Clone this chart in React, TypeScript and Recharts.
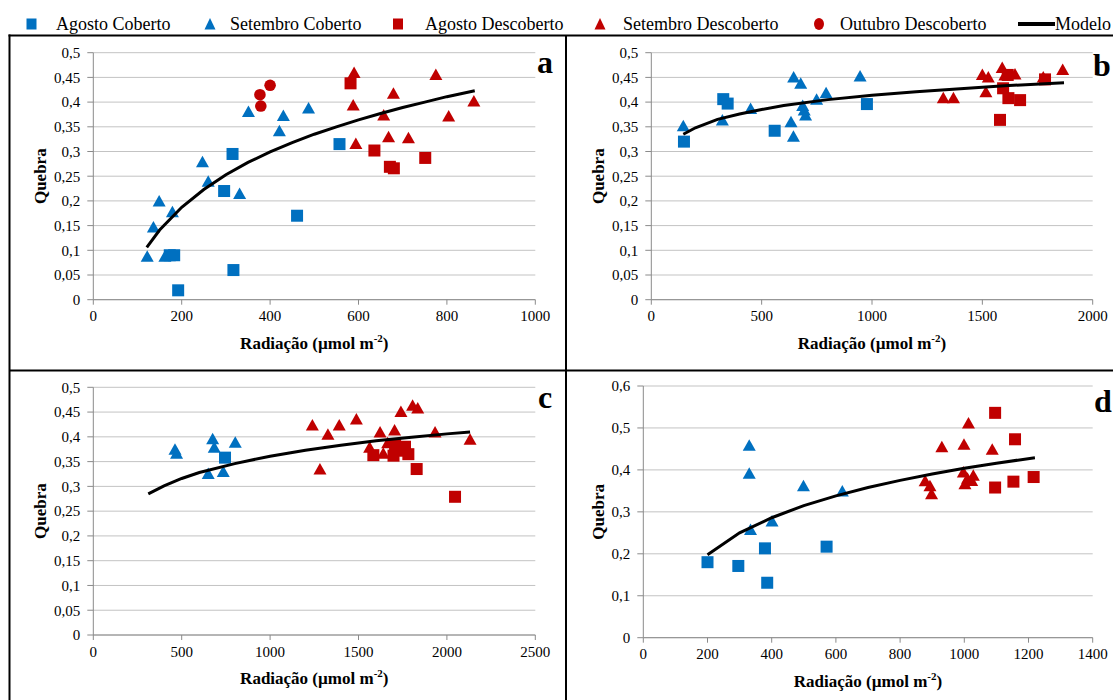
import React from 'react';
import { ScatterChart, Scatter, XAxis, YAxis, CartesianGrid } from 'recharts';

// ---------- DATA ----------
// Panel a
const aAgostoCoberto = [[173, 0.09], [183, 0.09], [192, 0.019], [296, 0.22], [315, 0.295], [317, 0.06], [461, 0.17], [557, 0.315]];
const aSetembroCoberto = [[122, 0.088], [136, 0.147], [149, 0.2], [162, 0.088], [179, 0.178], [247, 0.279], [260, 0.24], [331, 0.215], [351, 0.381], [421, 0.342], [430, 0.373], [487, 0.388]];
const aAgostoDescoberto = [[582, 0.438], [636, 0.302], [671, 0.269], [680, 0.266], [751, 0.287]];
const aSetembroDescoberto = [[588, 0.394], [590, 0.46], [594, 0.316], [657, 0.374], [668, 0.33], [679, 0.418], [713, 0.328], [775, 0.456], [804, 0.372], [861, 0.402]];
const aOutubroDescoberto = [[377, 0.415], [379, 0.392], [400, 0.434]];
const aModelo = [[121, 0.106], [150, 0.141], [200, 0.187], [250, 0.223], [300, 0.253], [350, 0.278], [400, 0.299], [450, 0.318], [500, 0.335], [550, 0.35], [600, 0.364], [650, 0.377], [700, 0.389], [750, 0.4], [800, 0.411], [863, 0.423]];

// Panel b
const bAgostoCoberto = [[148, 0.32], [326, 0.406], [346, 0.397], [559, 0.342], [977, 0.396]];
const bSetembroCoberto = [[145, 0.352], [322, 0.364], [450, 0.387], [633, 0.36], [644, 0.331], [645, 0.451], [677, 0.438], [686, 0.393], [693, 0.384], [699, 0.374], [749, 0.406], [792, 0.419], [946, 0.453]];
const bAgostoDescoberto = [[1580, 0.364], [1594, 0.428], [1615, 0.455], [1618, 0.408], [1671, 0.404], [1784, 0.446]];
const bSetembroDescoberto = [[1323, 0.409], [1369, 0.409], [1500, 0.456], [1516, 0.421], [1527, 0.451], [1590, 0.47], [1602, 0.455], [1648, 0.457], [1776, 0.451], [1864, 0.466]];
const bModelo = [[145, 0.335], [200, 0.348], [300, 0.365], [400, 0.376], [500, 0.385], [600, 0.393], [800, 0.405], [1000, 0.414], [1200, 0.421], [1400, 0.427], [1600, 0.433], [1870, 0.439]];

// Panel c
const cAgostoCoberto = [[745, 0.358]];
const cSetembroCoberto = [[462, 0.375], [471, 0.367], [650, 0.326], [675, 0.396], [684, 0.379], [735, 0.33], [803, 0.389]];
const cAgostoDescoberto = [[1584, 0.363], [1698, 0.362], [1707, 0.384], [1722, 0.372], [1763, 0.38], [1782, 0.365], [1829, 0.335], [2046, 0.279]];
const cSetembroDescoberto = [[1239, 0.424], [1282, 0.335], [1327, 0.405], [1391, 0.424], [1488, 0.436], [1563, 0.379], [1622, 0.41], [1640, 0.367], [1665, 0.388], [1704, 0.414], [1740, 0.451], [1806, 0.464], [1835, 0.458], [1933, 0.41], [2131, 0.395]];
const cModelo = [[311, 0.285], [400, 0.301], [500, 0.316], [600, 0.328], [800, 0.346], [1000, 0.361], [1200, 0.373], [1400, 0.383], [1600, 0.392], [1800, 0.399], [2000, 0.406], [2131, 0.41]];

// Panel d
const dAgostoCoberto = [[200, 0.18], [296, 0.171], [379, 0.213], [386, 0.131], [571, 0.217]];
const dSetembroCoberto = [[330, 0.459], [330, 0.392], [334, 0.258], [401, 0.278], [499, 0.362], [620, 0.35]];
const dAgostoDescoberto = [[1096, 0.536], [1158, 0.473], [1096, 0.358], [1153, 0.372], [1216, 0.383]];
const dSetembroDescoberto = [[878, 0.374], [893, 0.362], [898, 0.343], [930, 0.455], [997, 0.395], [999, 0.461], [1002, 0.367], [1010, 0.38], [1013, 0.512], [1023, 0.375], [1028, 0.387], [1087, 0.449]];
const dModelo = [[200, 0.198], [300, 0.25], [400, 0.286], [500, 0.315], [600, 0.338], [700, 0.358], [800, 0.375], [900, 0.39], [1000, 0.404], [1100, 0.416], [1220, 0.429]];

// Ticks
const xTicksA = [0, 200, 400, 600, 800, 1000];
const xTicksB = [0, 500, 1000, 1500, 2000];
const xTicksC = [0, 500, 1000, 1500, 2000, 2500];
const xTicksD = [0, 200, 400, 600, 800, 1000, 1200, 1400];
const yTicksABC = [0, 0.05, 0.1, 0.15, 0.2, 0.25, 0.3, 0.35, 0.4, 0.45, 0.5];
const yTicksD = [0, 0.1, 0.2, 0.3, 0.4, 0.5, 0.6];

const legendLabels = ['Agosto Coberto', 'Setembro Coberto', 'Agosto Descoberto', 'Setembro Descoberto', 'Outubro Descoberto', 'Modelo'];
const xTitle = 'Radiação (µmol m';
const yTitle = 'Quebra';

// ---------- STYLE ----------
const FONT = "'Liberation Serif', 'Times New Roman', serif";
const BLUE = '#0070C0';
const RED = '#C00000';
const GRID = '#c3c3c3';
const AXIS = '#8a8a8a';

const toPts = (arr: number[][]) => arr.map(([x, y]) => ({ x, y }));
const fmt = (v: number) => String(v).replace('.', ',');

const square = (color: string) => (p: any) => (
  <rect x={p.cx - 6} y={p.cy - 6} width={12} height={12} fill={color} />
);
const triangle = (color: string) => (p: any) => (
  <polygon points={`${p.cx},${p.cy - 6} ${p.cx + 6.5},${p.cy + 5.5} ${p.cx - 6.5},${p.cy + 5.5}`} fill={color} />
);
const circle = (color: string) => (p: any) => <circle cx={p.cx} cy={p.cy} r={5.8} fill={color} />;
const noShape = () => <g />;

const XTitle = (props: any) => {
  const vb = props.viewBox || {};
  return (
    <text x={vb.x + vb.width / 2} y={vb.y + 49} textAnchor="middle" fontFamily={FONT} fontWeight="bold" fontSize={17} fill="#000">
      {xTitle}
      <tspan dy={-7} fontSize={11}>-2</tspan>
      <tspan dy={7}>)</tspan>
    </text>
  );
};

const makeYTitle = (off: number) => (props: any) => {
  const vb = props.viewBox || {};
  const cx = vb.x + vb.width - off;
  const cy = vb.y + vb.height / 2;
  return (
    <text x={cx} y={cy} transform={`rotate(-90, ${cx}, ${cy})`} textAnchor="middle" dominantBaseline="central" fontFamily={FONT} fontWeight="bold" fontSize={17} fill="#000">
      {yTitle}
    </text>
  );
};

type PanelProps = {
  left: number; top: number; width: number; height: number;
  plotLeft: number; plotRight: number; plotTop: number; plotBottom: number;
  xDomain: number[]; xTicks: number[]; yDomain: number[]; yTicks: number[];
  ac: number[][]; sc: number[][]; ad: number[][]; sd: number[][]; od?: number[][]; model: number[][];
  quebraOff: number;
};

function Panel(p: PanelProps) {
  const yw = p.plotLeft - p.left;
  const margin = {
    top: p.plotTop - p.top,
    right: p.left + p.width - p.plotRight,
    bottom: p.top + p.height - p.plotBottom - 30,
    left: 0,
  };
  return (
    <div style={{ position: 'absolute', left: p.left, top: p.top, width: p.width, height: p.height }}>
      <ScatterChart width={p.width} height={p.height} margin={margin}>
        <CartesianGrid vertical={false} stroke={GRID} strokeWidth={1} />
        <XAxis
          type="number" dataKey="x" domain={p.xDomain} ticks={p.xTicks} interval={0} height={30}
          stroke={AXIS} tickSize={5} tickMargin={6}
          tick={{ fill: '#000', fontSize: 15, fontFamily: FONT }}
          label={(lp: any) => <XTitle {...lp} />}
        />
        <YAxis
          type="number" dataKey="y" domain={p.yDomain} ticks={p.yTicks} interval={0} width={yw}
          stroke={AXIS} tickSize={6} tickMargin={7} tickFormatter={fmt}
          tick={{ fill: '#000', fontSize: 15, fontFamily: FONT }}
          label={makeYTitle(p.quebraOff)}
        />
        <Scatter name="Agosto Coberto" data={toPts(p.ac)} shape={square(BLUE)} isAnimationActive={false} />
        <Scatter name="Setembro Coberto" data={toPts(p.sc)} shape={triangle(BLUE)} isAnimationActive={false} />
        <Scatter name="Agosto Descoberto" data={toPts(p.ad)} shape={square(RED)} isAnimationActive={false} />
        <Scatter name="Setembro Descoberto" data={toPts(p.sd)} shape={triangle(RED)} isAnimationActive={false} />
        {p.od ? <Scatter name="Outubro Descoberto" data={toPts(p.od)} shape={circle(RED)} isAnimationActive={false} /> : null}
        <Scatter
          name="Modelo" data={toPts(p.model)} shape={noShape} line={{ stroke: '#000', strokeWidth: 3 }}
          lineType="joint" isAnimationActive={false}
        />
      </ScatterChart>
    </div>
  );
}

function Legend() {
  const ty = 29.5;
  const cy = 24;
  return (
    <g fontFamily={FONT} fontSize={18} fill="#000">
      <rect x={26.5} y={cy - 5.5} width={10} height={11} fill={BLUE} />
      <text x={56} y={ty}>{legendLabels[0]}</text>
      <polygon points={`210,${cy - 6} 215.5,${cy + 5.5} 204.5,${cy + 5.5}`} fill={BLUE} />
      <text x={230} y={ty}>{legendLabels[1]}</text>
      <rect x={393} y={cy - 5.5} width={10} height={11} fill={RED} />
      <text x={425} y={ty}>{legendLabels[2]}</text>
      <polygon points={`600,${cy - 6} 605.5,${cy + 5.5} 594.5,${cy + 5.5}`} fill={RED} />
      <text x={623} y={ty}>{legendLabels[3]}</text>
      <ellipse cx={819} cy={cy} rx={5} ry={6} fill={RED} />
      <text x={840} y={ty}>{legendLabels[4]}</text>
      <line x1={1018} y1={cy} x2={1055} y2={cy} stroke="#000" strokeWidth={4} />
      <text x={1055} y={ty}>{legendLabels[5]}</text>
    </g>
  );
}

export default function App() {
  return (
    <div style={{ position: 'absolute', left: 0, top: 0, width: 1113, height: 700, background: '#fff', overflow: 'hidden' }}>
      <Panel
        left={11} top={37} width={554} height={332}
        plotLeft={93.3} plotRight={535.3} plotTop={52.7} plotBottom={299.7}
        xDomain={[0, 1000]} xTicks={xTicksA} yDomain={[0, 0.5]} yTicks={yTicksABC}
        ac={aAgostoCoberto} sc={aSetembroCoberto} ad={aAgostoDescoberto} sd={aSetembroDescoberto} od={aOutubroDescoberto} model={aModelo}
        quebraOff={53}
      />
      <Panel
        left={567} top={37} width={546} height={332}
        plotLeft={651.3} plotRight={1092.7} plotTop={52.7} plotBottom={299.7}
        xDomain={[0, 2000]} xTicks={xTicksB} yDomain={[0, 0.5]} yTicks={yTicksABC}
        ac={bAgostoCoberto} sc={bSetembroCoberto} ad={bAgostoDescoberto} sd={bSetembroDescoberto} model={bModelo}
        quebraOff={53}
      />
      <Panel
        left={11} top={372} width={554} height={328}
        plotLeft={93.3} plotRight={535.3} plotTop={387.3} plotBottom={635}
        xDomain={[0, 2500]} xTicks={xTicksC} yDomain={[0, 0.5]} yTicks={yTicksABC}
        ac={cAgostoCoberto} sc={cSetembroCoberto} ad={cAgostoDescoberto} sd={cSetembroDescoberto} model={cModelo}
        quebraOff={53}
      />
      <Panel
        left={567} top={372} width={546} height={328}
        plotLeft={643.3} plotRight={1092.7} plotTop={386} plotBottom={637.7}
        xDomain={[0, 1400]} xTicks={xTicksD} yDomain={[0, 0.6]} yTicks={yTicksD}
        ac={dAgostoCoberto} sc={dSetembroCoberto} ad={dAgostoDescoberto} sd={dSetembroDescoberto} model={dModelo}
        quebraOff={45}
      />
      <svg width={1113} height={700} style={{ position: 'absolute', left: 0, top: 0, pointerEvents: 'none' }}>
        <Legend />
        <line x1={8.5} y1={35.5} x2={1113} y2={35.5} stroke="#000" strokeWidth={2} />
        <line x1={9.5} y1={34.5} x2={9.5} y2={700} stroke="#000" strokeWidth={2} />
        <line x1={566} y1={35} x2={566} y2={700} stroke="#000" strokeWidth={2} />
        <line x1={9} y1={370.5} x2={1113} y2={370.5} stroke="#000" strokeWidth={2} />
        <g fontFamily={FONT} fontWeight="bold" fontSize={32} fill="#000" textAnchor="middle">
          <text x={545} y={73}>a</text>
          <text x={1102} y={76}>b</text>
          <text x={545} y={408}>c</text>
          <text x={1103} y={412}>d</text>
        </g>
      </svg>
    </div>
  );
}
